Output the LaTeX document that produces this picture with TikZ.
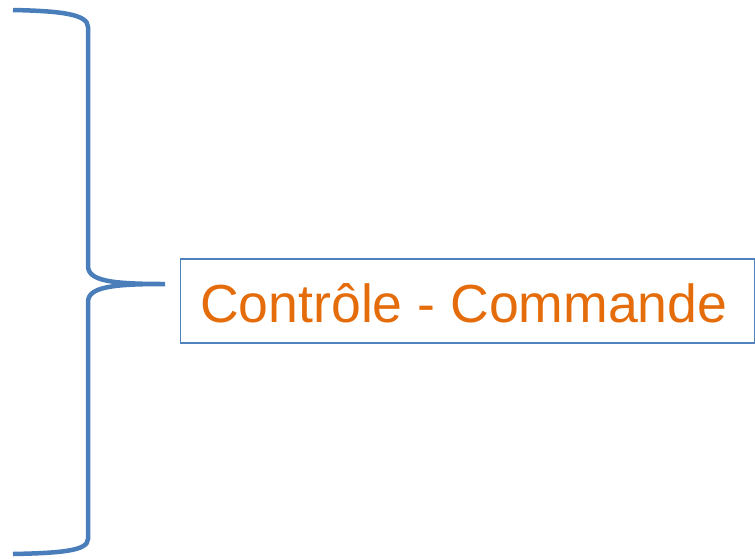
\documentclass[tikz,border=0pt]{standalone}
\usepackage{fontspec}
\setmainfont{Liberation Sans}
\definecolor{braceblue}{HTML}{4A7EBB}
\definecolor{boxblue}{HTML}{4F81BD}
\definecolor{txtorange}{HTML}{E46C0A}
\begin{document}
\begin{tikzpicture}[x=1pt,y=-1pt,
  bracestyle/.style={draw=braceblue,line width=4.5pt,line cap=butt},
  boxstyle/.style={draw=boxblue,line width=1.4pt,inner sep=0pt,text height=63pt,text depth=21pt,
    font=\fontsize{53.6}{60}\selectfont,text=txtorange,anchor=base west}]
\useasboundingbox (0,0) rectangle (755,558);
\draw[bracestyle] (13,10) .. controls (60,11) and (88,14) .. (88,27)
  -- (88,266) .. controls (88,281) and (112,284) .. (165,284)
  .. controls (112,284) and (88,287) .. (88,302)
  -- (88,539) .. controls (88,551) and (60,553) .. (13,554);
\node[boxstyle] (box) at (179.5,322) {\makebox[574.5pt][l]{\hspace{20pt}Contrôle - Commande}};
\end{tikzpicture}
\end{document}
